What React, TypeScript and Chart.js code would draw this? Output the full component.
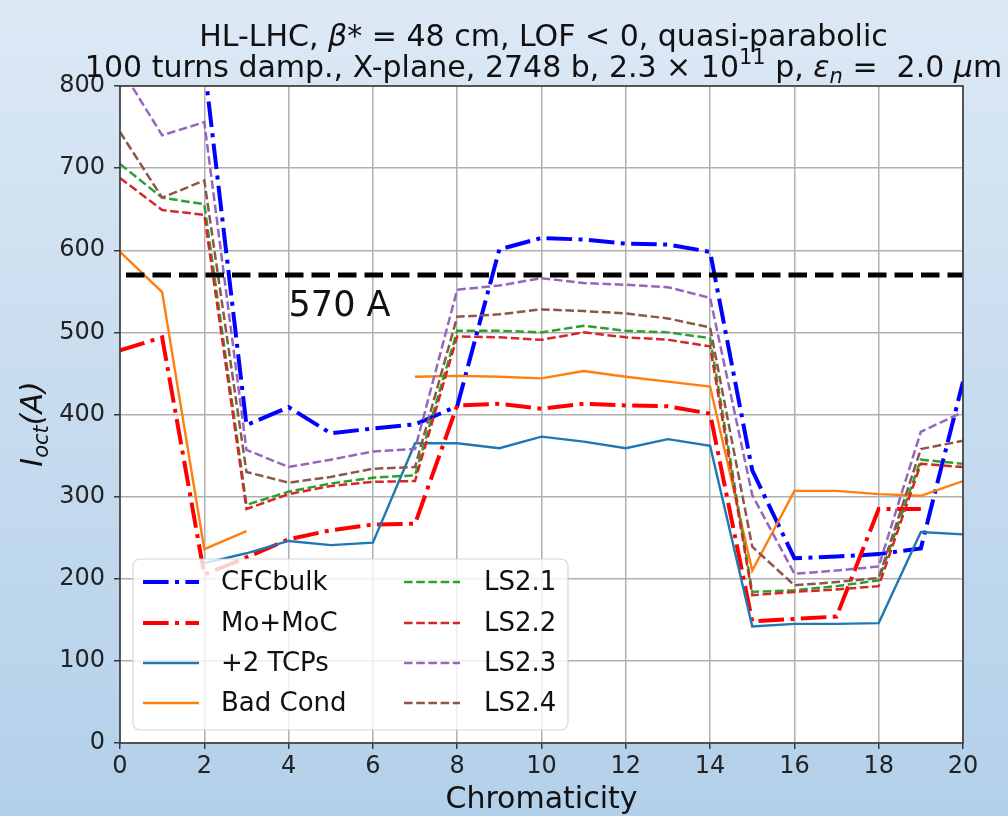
import React, { useEffect, useRef } from 'react';
import { Chart, registerables } from 'chart.js';

Chart.register(...registerables);

// ---------------- data ----------------
const chroma = [0, 1, 2, 3, 4, 5, 6, 7, 8, 9, 10, 11, 12, 13, 14, 15, 16, 17, 18, 19, 20];

const cfcBulk = [950, 880, 826, 387, 409, 377, 383, 388, 410, 601, 615, 613, 608, 607, 598, 332, 225, 227, 230, 237, 440];
const moMoC = [478, 494, 205, 226, 248, 259, 266, 267, 411, 413, 407, 413, 411, 410, 401, 148, 151, 154, 285, 285, null];
const tcps = [null, null, 219, 231, 246, 241, 244, 365, 365, 359, 373, 367, 359, 370, 362, 142, 145, 145, 146, 257, 254];
const badCond = [598, 549, 236, 258, null, null, null, 446, 447, 446, 444, 453, 446, 440, 434, 210, 307, 307, 303, 301, 319];
const ls21 = [705, 664, 656, 290, 306, 316, 323, 326, 502, 502, 500, 508, 502, 500, 493, 184, 186, 191, 198, 345, 340];
const ls22 = [688, 649, 643, 285, 303, 313, 318, 319, 495, 494, 491, 500, 494, 491, 483, 180, 184, 187, 191, 340, 336];
const ls23 = [823, 740, 756, 357, 336, 345, 355, 358, 552, 557, 566, 560, 558, 555, 542, 302, 206, 210, 215, 379, 403];
const ls24 = [744, 664, 685, 330, 317, 324, 334, 336, 519, 522, 528, 526, 523, 517, 506, 239, 192, 196, 201, 358, 368];

const limitValue = 570;
const limitLabel = '570 A';
const limitLabelPos = [4, 520];

const xTicksMin = 0;
const xTicksMax = 20;
const yTicksMin = 0;
const yTicksMax = 800;

const seriesNames = ['CFCbulk', 'Mo+MoC', '+2 TCPs', 'Bad Cond', 'LS2.1', 'LS2.2', 'LS2.3', 'LS2.4'];

// ---------------- styles ----------------
const FONT = '"DejaVu Sans", sans-serif';
const DASHDOT = [25.6, 6.4, 4, 6.4];
const DASHED = [8.6, 3.6];

type Style = { color: string; width: number; dash: number[] };
const styles: Style[] = [
  { color: '#0000ff', width: 4, dash: DASHDOT },
  { color: '#ff0000', width: 4, dash: DASHDOT },
  { color: '#1f77b4', width: 2.4, dash: [] },
  { color: '#ff7f0e', width: 2.4, dash: [] },
  { color: '#2ca02c', width: 2.5, dash: DASHED },
  { color: '#d62728', width: 2.5, dash: DASHED },
  { color: '#9467bd', width: 2.5, dash: DASHED },
  { color: '#8c564b', width: 2.5, dash: DASHED },
];

const seriesValues = [cfcBulk, moMoC, tcps, badCond, ls21, ls22, ls23, ls24];

type Seg = { t: string; it?: boolean; sup?: boolean; sub?: boolean };

function segFont(s: Seg, size: number) {
  const sz = s.sup || s.sub ? size * 0.7 : size;
  return `${s.it ? 'italic ' : ''}${sz}px ${FONT}`;
}

function drawRich(ctx: CanvasRenderingContext2D, segs: Seg[], cx: number, y: number, size: number) {
  let total = 0;
  const widths = segs.map((s) => {
    ctx.font = segFont(s, size);
    const w = ctx.measureText(s.t).width;
    total += w;
    return w;
  });
  let x = cx - total / 2;
  ctx.textAlign = 'left';
  ctx.textBaseline = 'alphabetic';
  segs.forEach((s, i) => {
    ctx.font = segFont(s, size);
    let dy = 0;
    if (s.sup) dy = -size * 0.42;
    if (s.sub) dy = size * 0.2;
    ctx.fillText(s.t, x, y + dy);
    x += widths[i];
  });
}

const title1: Seg[] = [
  { t: 'HL-LHC, ' },
  { t: 'β', it: true },
  { t: '* = 48 cm, LOF < 0, quasi-parabolic' },
];
const title2: Seg[] = [
  { t: '100 turns damp., X-plane, 2748 b, 2.3 × 10' },
  { t: '11', sup: true },
  { t: ' p, ' },
  { t: 'ε', it: true },
  { t: 'n', it: true, sub: true },
  { t: ' =  2.0 ' },
  { t: 'μ', it: true },
  { t: 'm' },
];
const yTitle: Seg[] = [
  { t: 'I', it: true },
  { t: 'oct', it: true, sub: true },
  { t: '(A)', it: true },
];

const customPlugin = {
  id: 'customDecor',
  beforeDraw(chart: any) {
    const { ctx, chartArea: a } = chart;
    ctx.save();
    ctx.fillStyle = '#ffffff';
    ctx.fillRect(a.left, a.top, a.right - a.left, a.bottom - a.top);
    ctx.restore();
  },
  afterDatasetsDraw(chart: any) {
    const { ctx } = chart;
    const xs = chart.scales.x;
    const ys = chart.scales.y;
    ctx.save();
    ctx.fillStyle = '#111';
    ctx.font = `35px ${FONT}`;
    ctx.textAlign = 'left';
    ctx.textBaseline = 'alphabetic';
    ctx.fillText(limitLabel, xs.getPixelForValue(limitLabelPos[0]), ys.getPixelForValue(limitLabelPos[1]));
    ctx.restore();
  },
  afterDraw(chart: any) {
    const { ctx, chartArea: a } = chart;
    ctx.save();
    // spines
    ctx.strokeStyle = '#3a3a3a';
    ctx.lineWidth = 1.6;
    ctx.setLineDash([]);
    ctx.strokeRect(a.left, a.top, a.right - a.left, a.bottom - a.top);

    // legend box
    const bx = 133, by = 559, bw = 435, bh = 171, r = 7;
    ctx.beginPath();
    ctx.moveTo(bx + r, by);
    ctx.arcTo(bx + bw, by, bx + bw, by + bh, r);
    ctx.arcTo(bx + bw, by + bh, bx, by + bh, r);
    ctx.arcTo(bx, by + bh, bx, by, r);
    ctx.arcTo(bx, by, bx + bw, by, r);
    ctx.closePath();
    ctx.fillStyle = 'rgba(255,255,255,0.8)';
    ctx.fill();
    ctx.strokeStyle = 'rgba(204,204,204,0.8)';
    ctx.lineWidth = 1.2;
    ctx.stroke();

    const rows = [582, 623, 663, 703];
    const cols = [
      { hx1: 143, hx2: 199, tx: 221 },
      { hx1: 404, hx2: 460, tx: 484 },
    ];
    seriesNames.forEach((name, i) => {
      const col = cols[Math.floor(i / 4)];
      const yy = rows[i % 4];
      const st = styles[i];
      ctx.beginPath();
      ctx.strokeStyle = st.color;
      ctx.lineWidth = st.width;
      ctx.setLineDash(st.dash);
      ctx.lineDashOffset = 0;
      ctx.moveTo(col.hx1, yy);
      ctx.lineTo(col.hx2, yy);
      ctx.stroke();
      ctx.setLineDash([]);
      ctx.fillStyle = '#111';
      ctx.font = `26px ${FONT}`;
      ctx.textAlign = 'left';
      ctx.textBaseline = 'middle';
      ctx.fillText(name, col.tx, yy + 1);
    });

    // titles
    ctx.fillStyle = '#111';
    const cx = (a.left + a.right) / 2 + 2;
    drawRich(ctx, title1, cx, 46, 30);
    drawRich(ctx, title2, cx, 77, 30);

    // x title
    ctx.font = `30px ${FONT}`;
    ctx.textAlign = 'center';
    ctx.textBaseline = 'alphabetic';
    ctx.fillText('Chromaticity', (a.left + a.right) / 2, 808);

    // y title
    ctx.save();
    ctx.translate(42, 424);
    ctx.rotate(-Math.PI / 2);
    drawRich(ctx, yTitle, 0, 0, 30);
    ctx.restore();

    ctx.restore();
  },
};

export default function App() {
  const ref = useRef<HTMLCanvasElement>(null);

  useEffect(() => {
    if (!ref.current) return;
    const datasets: any[] = seriesValues.map((vals, i) => ({
      label: seriesNames[i],
      data: chroma.map((c, k) => ({ x: c, y: vals[k] })),
      borderColor: styles[i].color,
      borderWidth: styles[i].width,
      borderDash: styles[i].dash,
      pointRadius: 0,
      tension: 0,
      fill: false,
      spanGaps: false,
      order: -i,
    }));
    datasets.push({
      label: 'limit',
      data: [
        { x: xTicksMin, y: limitValue },
        { x: xTicksMax, y: limitValue },
      ],
      borderColor: '#000000',
      borderWidth: 5,
      borderDash: [18.5, 8],
      borderDashOffset: 20.5,
      pointRadius: 0,
      fill: false,
      order: -20,
    });

    const chart = new Chart(ref.current, {
      type: 'line',
      data: { datasets },
      plugins: [customPlugin],
      options: {
        animation: false,
        responsive: false,
        devicePixelRatio: 1,
        layout: { padding: { left: 0, right: 45, top: 86, bottom: 0 } },
        plugins: {
          legend: { display: false },
          title: { display: false },
          tooltip: { enabled: false },
        },
        scales: {
          x: {
            type: 'linear',
            min: xTicksMin,
            max: xTicksMax,
            afterFit: (s: any) => {
              s.height = 73;
            },
            ticks: {
              stepSize: 2,
              color: '#222',
              font: { family: FONT, size: 24 },
              padding: 3,
              maxRotation: 0,
            },
            grid: {
              color: '#b0b0b0',
              lineWidth: 1.5,
              tickLength: 6,
              tickColor: '#3a3a3a',
              tickWidth: 1.5,
            },
            border: { display: false },
          },
          y: {
            type: 'linear',
            min: yTicksMin,
            max: yTicksMax,
            afterFit: (s: any) => {
              s.width = 120;
            },
            ticks: {
              stepSize: 100,
              color: '#222',
              font: { family: FONT, size: 24 },
              padding: 9,
            },
            grid: {
              color: '#b0b0b0',
              lineWidth: 1.5,
              tickLength: 6,
              tickColor: '#3a3a3a',
              tickWidth: 1.5,
            },
            border: { display: false },
          },
        },
      } as any,
    });
    return () => chart.destroy();
  }, []);

  return (
    <div
      style={{
        position: 'fixed',
        left: 0,
        top: 0,
        width: 1008,
        height: 816,
        background: 'linear-gradient(to bottom, #dde9f5 0%, #c9ddef 45%, #b3d0ea 100%)',
      }}
    >
      <canvas ref={ref} width={1008} height={816} style={{ display: 'block', width: 1008, height: 816 }} />
    </div>
  );
}
